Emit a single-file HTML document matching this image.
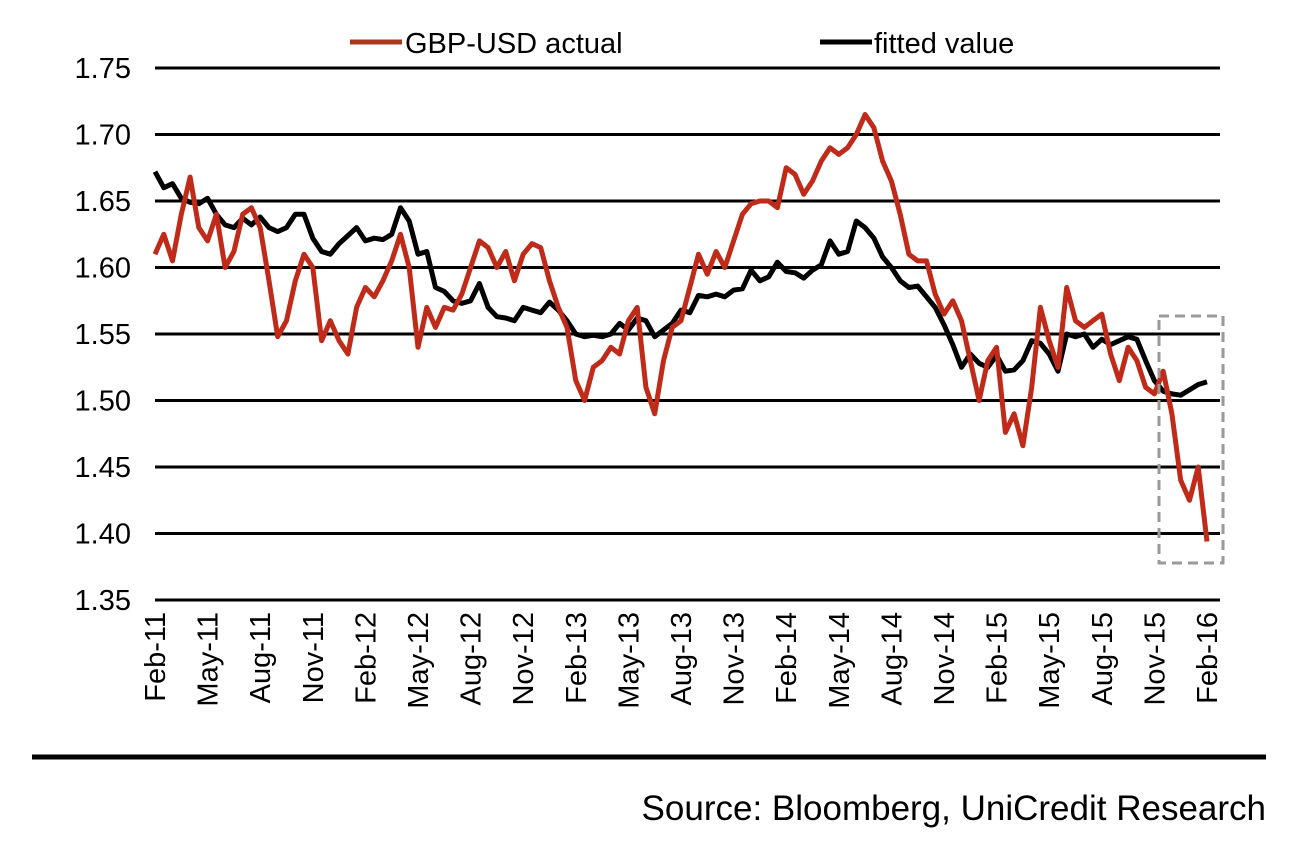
<!DOCTYPE html>
<html><head><meta charset="utf-8"><style>
body{margin:0;background:#fff;}
svg{display:block;font-family:"Liberation Sans",Arial,sans-serif;}
</style></head><body>
<svg id="chart" width="1292" height="842" viewBox="0 0 1292 842">
<g id="grid"></g>
<g id="ylab"></g>
<g id="xlab"></g>
<g id="series"></g>
<rect x="1159" y="316" width="64" height="247" fill="none" stroke="#9a9a9a" stroke-width="3" stroke-dasharray="10,6"/>
<g>
 <g>
  <line x1="350" y1="42" x2="402" y2="42" stroke="#a8381c" stroke-width="5"/>
  <text x="405" y="53" font-size="29" fill="#000">GBP-USD actual</text>
 </g>
 <g>
  <line x1="820" y1="42" x2="872" y2="42" stroke="#000" stroke-width="5"/>
  <text x="874" y="53" font-size="29" fill="#000">fitted value</text>
 </g>
</g>
<line x1="32" y1="757" x2="1266" y2="757" stroke="#000" stroke-width="5"/>
<text x="1266" y="820" font-size="35" text-anchor="end" fill="#000">Source: Bloomberg, UniCredit Research</text>
</svg>
<script>
const yTicks=[1.35,1.40,1.45,1.50,1.55,1.60,1.65,1.70,1.75];
const yTickLabels=["1.35","1.40","1.45","1.50","1.55","1.60","1.65","1.70","1.75"];
const xTickLabels=["Feb-11","May-11","Aug-11","Nov-11","Feb-12","May-12","Aug-12","Nov-12","Feb-13","May-13","Aug-13","Nov-13","Feb-14","May-14","Aug-14","Nov-14","Feb-15","May-15","Aug-15","Nov-15","Feb-16"];
const actual=[1.610,1.625,1.605,1.640,1.668,1.630,1.620,1.640,1.600,1.612,1.640,1.645,1.630,1.590,1.548,1.560,1.590,1.610,1.600,1.545,1.560,1.545,1.535,1.570,1.585,1.578,1.590,1.605,1.625,1.600,1.540,1.570,1.555,1.570,1.568,1.580,1.600,1.620,1.615,1.600,1.612,1.590,1.610,1.618,1.615,1.590,1.570,1.555,1.515,1.500,1.525,1.530,1.540,1.535,1.560,1.570,1.510,1.490,1.530,1.555,1.560,1.585,1.610,1.595,1.612,1.600,1.620,1.640,1.648,1.650,1.650,1.645,1.675,1.670,1.655,1.665,1.680,1.690,1.685,1.690,1.700,1.715,1.705,1.680,1.665,1.640,1.610,1.605,1.605,1.580,1.565,1.575,1.560,1.530,1.500,1.530,1.540,1.476,1.490,1.466,1.510,1.570,1.545,1.525,1.585,1.560,1.555,1.560,1.565,1.535,1.515,1.540,1.530,1.510,1.505,1.522,1.490,1.440,1.425,1.450,1.394];
const fitted=[1.672,1.660,1.663,1.652,1.649,1.648,1.652,1.640,1.632,1.630,1.637,1.632,1.638,1.630,1.627,1.630,1.640,1.640,1.622,1.612,1.610,1.618,1.624,1.630,1.620,1.622,1.621,1.625,1.645,1.635,1.610,1.612,1.585,1.582,1.575,1.573,1.575,1.588,1.570,1.563,1.562,1.560,1.570,1.568,1.566,1.574,1.568,1.560,1.550,1.548,1.549,1.548,1.550,1.558,1.553,1.562,1.560,1.548,1.553,1.558,1.568,1.566,1.579,1.578,1.580,1.578,1.583,1.584,1.598,1.590,1.593,1.604,1.597,1.596,1.592,1.598,1.602,1.620,1.610,1.612,1.635,1.630,1.622,1.608,1.600,1.590,1.585,1.586,1.578,1.570,1.557,1.542,1.525,1.535,1.528,1.525,1.534,1.522,1.523,1.530,1.545,1.543,1.535,1.522,1.550,1.548,1.550,1.540,1.546,1.542,1.545,1.548,1.546,1.530,1.515,1.507,1.505,1.504,1.508,1.512,1.514];

const NS="http://www.w3.org/2000/svg";
const X0=155,X1=1207,Y0=600,Y1=68,VMIN=1.35,VMAX=1.75;
function yScale(v){return Y0-(v-VMIN)/(VMAX-VMIN)*(Y0-Y1);}
function xScale(i,n){return X0+(X1-X0)*i/(n-1);}
function mk(t,a){const e=document.createElementNS(NS,t);for(const k in a)e.setAttribute(k,a[k]);return e;}
const grid=document.getElementById('grid'),ylab=document.getElementById('ylab'),xlab=document.getElementById('xlab'),ser=document.getElementById('series');
yTicks.forEach((v,i)=>{
 const l=mk('line',{x1:155,x2:1220,y1:yScale(v),y2:yScale(v),stroke:'#000','stroke-width':3});
 
 
 grid.appendChild(l);
 const t=mk('text',{x:131,y:yScale(v)+10,'font-size':29,'text-anchor':'end'});
 t.textContent=yTickLabels[i];
 
 
 ylab.appendChild(t);
});
xTickLabels.forEach((s,i)=>{
 const x=xScale(i,xTickLabels.length)+10;
 const t=mk('text',{x:x,y:612,'font-size':29,'text-anchor':'end',transform:`rotate(-90 ${x} 612)`});
 t.textContent=s;
 
 
 xlab.appendChild(t);
});
function path(arr,color,name){
 const d=arr.map((v,i)=>(i?'L':'M')+xScale(i,arr.length).toFixed(1)+','+yScale(v).toFixed(1)).join('');
 const p=mk('path',{d:d,fill:'none',stroke:color,'stroke-width':5,'stroke-linejoin':'round'});
 
 
 ser.appendChild(p);
}
path(fitted,'#000','fitted-value-line');
path(actual,'#c02a18','gbp-usd-actual-line');
</script>
</body></html>
